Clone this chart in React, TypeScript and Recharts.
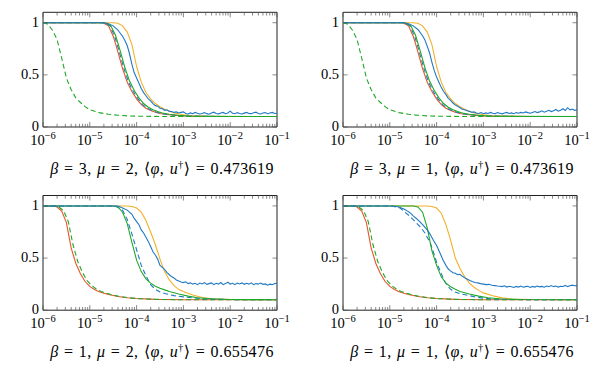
import React from "react";
import { LineChart, Line, XAxis, YAxis, ReferenceArea } from "recharts";

type P = [number, number][];

// ---- tick values ----
const majorExps = [-6, -5, -4, -3, -2, -1];
const minorMult = [2, 3, 4, 5, 6, 7, 8, 9];
const yTicks = [0, 0.5, 1];

// ---- captions ----
const captionsBeta = [3, 3, 1, 1];
const captionsMu = [2, 1, 2, 1];
const captionsVal = ["0.473619", "0.473619", "0.655476", "0.655476"];

// ---- beta = 3 curves (top row) ----
const b3Red: P = [[-6, 1], [-4.75, 1], [-4.7, 0.995], [-4.6, 0.97], [-4.5, 0.87], [-4.45, 0.8], [-4.4, 0.72], [-4.3, 0.56], [-4.2, 0.43], [-4.1, 0.34], [-4.0, 0.27], [-3.9, 0.215], [-3.8, 0.18], [-3.7, 0.158], [-3.6, 0.142], [-3.5, 0.13], [-3.4, 0.122], [-3.2, 0.112], [-3.0, 0.106], [-2.6, 0.102], [-2, 0.1], [-1, 0.1]];
const b3BlueDash: P = [[-6, 1], [-4.72, 1], [-4.67, 0.995], [-4.57, 0.97], [-4.47, 0.87], [-4.42, 0.8], [-4.37, 0.72], [-4.27, 0.56], [-4.17, 0.43], [-4.07, 0.34], [-3.97, 0.27], [-3.87, 0.215], [-3.77, 0.18], [-3.67, 0.158], [-3.57, 0.142], [-3.47, 0.13], [-3.37, 0.122], [-3.17, 0.112], [-2.97, 0.106], [-2.57, 0.102], [-2, 0.1], [-1, 0.1]];
const b3Green: P = [[-6, 1], [-4.7, 1], [-4.65, 0.995], [-4.55, 0.97], [-4.45, 0.88], [-4.35, 0.73], [-4.25, 0.57], [-4.15, 0.44], [-4.05, 0.35], [-3.95, 0.28], [-3.85, 0.225], [-3.75, 0.19], [-3.65, 0.165], [-3.55, 0.148], [-3.45, 0.135], [-3.3, 0.122], [-3.1, 0.112], [-2.9, 0.106], [-2.5, 0.102], [-1, 0.1]];
const b3Yellow: P = [[-6, 1], [-4.5, 1], [-4.4, 0.995], [-4.3, 0.97], [-4.2, 0.91], [-4.1, 0.79], [-4.0, 0.58], [-3.9, 0.43], [-3.8, 0.33], [-3.7, 0.27], [-3.6, 0.225], [-3.5, 0.195], [-3.4, 0.17], [-3.3, 0.15], [-3.2, 0.135], [-3.0, 0.117], [-2.8, 0.108], [-2.5, 0.103], [-2, 0.1], [-1, 0.1]];
const b3GreenDash: P = [[-6, 1], [-5.95, 0.995], [-5.9, 0.985], [-5.8, 0.93], [-5.7, 0.84], [-5.6, 0.66], [-5.5, 0.47], [-5.4, 0.36], [-5.3, 0.28], [-5.2, 0.235], [-5.1, 0.195], [-5.0, 0.165], [-4.8, 0.138], [-4.6, 0.122], [-4.4, 0.113], [-4.2, 0.107], [-4.0, 0.104], [-3.5, 0.101], [-3, 0.1], [-1, 0.1]];

const tlBlue: P = [[-6, 1], [-4.7, 1], [-4.6, 0.99], [-4.5, 0.97], [-4.4, 0.93], [-4.3, 0.87], [-4.25, 0.83], [-4.2, 0.78], [-4.15, 0.7], [-4.1, 0.6], [-4.05, 0.52], [-4.0, 0.47], [-3.95, 0.42], [-3.9, 0.37], [-3.85, 0.33], [-3.8, 0.3], [-3.75, 0.27], [-3.7, 0.25], [-3.65, 0.225], [-3.6, 0.205], [-3.55, 0.2], [-3.5, 0.18], [-3.45, 0.175], [-3.4, 0.16], [-3.35, 0.165], [-3.3, 0.15], [-3.25, 0.148], [-3.2, 0.14], [-3.15, 0.145], [-3.1, 0.135], [-3.05, 0.14],
  [-3.0, 0.145], [-2.95, 0.13], [-2.9, 0.125], [-2.85, 0.135], [-2.8, 0.128], [-2.75, 0.14], [-2.7, 0.132], [-2.65, 0.125], [-2.6, 0.13], [-2.55, 0.138], [-2.5, 0.128], [-2.45, 0.122], [-2.4, 0.135], [-2.35, 0.142], [-2.3, 0.13], [-2.25, 0.126], [-2.2, 0.134], [-2.15, 0.14], [-2.1, 0.128], [-2.05, 0.135], [-2.0, 0.152], [-1.95, 0.132], [-1.9, 0.127], [-1.85, 0.138], [-1.8, 0.13], [-1.75, 0.125], [-1.7, 0.133], [-1.65, 0.14], [-1.6, 0.13], [-1.55, 0.128], [-1.5, 0.136], [-1.45, 0.142], [-1.4, 0.13], [-1.35, 0.125], [-1.3, 0.134], [-1.25, 0.138], [-1.2, 0.128], [-1.15, 0.135], [-1.1, 0.14], [-1.05, 0.13], [-1.0, 0.132]];

const trBlue: P = [[-6, 1], [-4.7, 1], [-4.6, 0.99], [-4.5, 0.97], [-4.4, 0.935], [-4.3, 0.875], [-4.25, 0.835], [-4.2, 0.775], [-4.15, 0.71], [-4.1, 0.62], [-4.05, 0.54], [-4.0, 0.48], [-3.95, 0.43], [-3.9, 0.38], [-3.85, 0.34], [-3.8, 0.31], [-3.75, 0.275], [-3.7, 0.255], [-3.65, 0.23], [-3.6, 0.21], [-3.55, 0.2], [-3.5, 0.185], [-3.45, 0.17], [-3.4, 0.165], [-3.35, 0.155], [-3.3, 0.15], [-3.25, 0.142], [-3.2, 0.145], [-3.15, 0.135], [-3.1, 0.13], [-3.05, 0.138],
  [-3.0, 0.128], [-2.95, 0.135], [-2.9, 0.13], [-2.85, 0.14], [-2.8, 0.132], [-2.75, 0.128], [-2.7, 0.138], [-2.65, 0.132], [-2.6, 0.126], [-2.55, 0.135], [-2.5, 0.14], [-2.45, 0.13], [-2.4, 0.135], [-2.35, 0.128], [-2.3, 0.138], [-2.25, 0.132], [-2.2, 0.14], [-2.15, 0.135], [-2.1, 0.145], [-2.05, 0.138], [-2.0, 0.132], [-1.95, 0.14], [-1.9, 0.148], [-1.85, 0.138], [-1.8, 0.145], [-1.75, 0.155], [-1.7, 0.142], [-1.65, 0.15], [-1.6, 0.16], [-1.55, 0.148], [-1.5, 0.155], [-1.45, 0.168], [-1.4, 0.152], [-1.35, 0.16], [-1.3, 0.175], [-1.25, 0.158], [-1.2, 0.185], [-1.15, 0.165], [-1.1, 0.172], [-1.05, 0.16], [-1.0, 0.165]];

// ---- beta = 1 curves (bottom row) ----
const b1Red: P = [[-6, 1], [-5.75, 1], [-5.7, 0.99], [-5.6, 0.95], [-5.5, 0.84], [-5.4, 0.6], [-5.3, 0.45], [-5.2, 0.35], [-5.1, 0.275], [-5.0, 0.228], [-4.9, 0.198], [-4.8, 0.177], [-4.7, 0.162], [-4.6, 0.15], [-4.4, 0.132], [-4.2, 0.12], [-4.0, 0.112], [-3.6, 0.104], [-3, 0.1], [-1, 0.1]];
const b1GreenDash: P = [[-6, 1], [-5.72, 1], [-5.66, 0.99], [-5.56, 0.955], [-5.46, 0.85], [-5.36, 0.63], [-5.26, 0.47], [-5.16, 0.365], [-5.06, 0.285], [-4.96, 0.236], [-4.86, 0.203], [-4.76, 0.18], [-4.66, 0.164], [-4.56, 0.152], [-4.4, 0.135], [-4.2, 0.121], [-4.0, 0.112], [-3.6, 0.104], [-3, 0.1], [-1, 0.1]];

const blGreen: P = [[-6, 1], [-4.5, 1], [-4.4, 0.99], [-4.3, 0.94], [-4.2, 0.83], [-4.1, 0.65], [-4.0, 0.48], [-3.9, 0.37], [-3.8, 0.3], [-3.7, 0.26], [-3.6, 0.23], [-3.5, 0.21], [-3.4, 0.195], [-3.3, 0.18], [-3.1, 0.155], [-2.9, 0.135], [-2.7, 0.12], [-2.4, 0.11], [-2.0, 0.103], [-1, 0.1]];
const blBlueDash: P = [[-6, 1], [-4.45, 1], [-4.3, 0.96], [-4.2, 0.87], [-4.1, 0.73], [-4.0, 0.58], [-3.9, 0.43], [-3.8, 0.33], [-3.7, 0.245], [-3.6, 0.2], [-3.5, 0.175], [-3.4, 0.16], [-3.2, 0.14], [-3.0, 0.128], [-2.8, 0.118], [-2.5, 0.108], [-2.0, 0.102], [-1, 0.1]];
const blYellow: P = [[-6, 1], [-4.2, 1], [-4.1, 0.995], [-4.0, 0.98], [-3.9, 0.94], [-3.8, 0.86], [-3.7, 0.75], [-3.6, 0.63], [-3.5, 0.49], [-3.4, 0.37], [-3.3, 0.29], [-3.2, 0.235], [-3.1, 0.2], [-3.0, 0.18], [-2.8, 0.145], [-2.6, 0.122], [-2.4, 0.11], [-2.0, 0.103], [-1, 0.1]];
const blBlue: P = [[-6, 1], [-4.4, 1], [-4.3, 0.98], [-4.2, 0.96], [-4.1, 0.92], [-4.05, 0.88], [-4.0, 0.85], [-3.95, 0.82], [-3.9, 0.77], [-3.85, 0.74], [-3.8, 0.7], [-3.75, 0.66], [-3.7, 0.61], [-3.65, 0.56], [-3.6, 0.53], [-3.55, 0.49], [-3.5, 0.43], [-3.45, 0.41], [-3.4, 0.39], [-3.35, 0.36], [-3.3, 0.34], [-3.25, 0.32], [-3.2, 0.31], [-3.15, 0.29], [-3.1, 0.28], [-3.05, 0.27], [-3.0, 0.265],
  [-2.95, 0.272], [-2.9, 0.255], [-2.85, 0.262], [-2.8, 0.25], [-2.75, 0.258], [-2.7, 0.245], [-2.65, 0.26], [-2.6, 0.252], [-2.55, 0.265], [-2.5, 0.248], [-2.45, 0.255], [-2.4, 0.262], [-2.35, 0.245], [-2.3, 0.258], [-2.25, 0.25], [-2.2, 0.265], [-2.15, 0.245], [-2.1, 0.255], [-2.05, 0.268], [-2.0, 0.25], [-1.95, 0.258], [-1.9, 0.245], [-1.85, 0.26], [-1.8, 0.252], [-1.75, 0.262], [-1.7, 0.248], [-1.65, 0.258], [-1.6, 0.25], [-1.55, 0.262], [-1.5, 0.245], [-1.45, 0.255], [-1.4, 0.25], [-1.35, 0.26], [-1.3, 0.248], [-1.25, 0.252], [-1.2, 0.24], [-1.15, 0.25], [-1.1, 0.245], [-1.05, 0.255], [-1.0, 0.258]];

const brGreen: P = [[-6, 1], [-4.5, 1], [-4.4, 0.99], [-4.3, 0.94], [-4.2, 0.79], [-4.1, 0.57], [-4.0, 0.43], [-3.9, 0.32], [-3.8, 0.26], [-3.7, 0.225], [-3.6, 0.2], [-3.5, 0.18], [-3.3, 0.155], [-3.1, 0.135], [-2.9, 0.12], [-2.6, 0.108], [-2.2, 0.102], [-1, 0.1]];
const brBlueDash: P = [[-6, 1], [-4.95, 1], [-4.78, 0.98], [-4.57, 0.9], [-4.35, 0.8], [-4.25, 0.74], [-4.14, 0.65], [-4.07, 0.56], [-4.0, 0.46], [-3.9, 0.35], [-3.82, 0.27], [-3.72, 0.21], [-3.64, 0.18], [-3.5, 0.158], [-3.36, 0.145], [-3.2, 0.13], [-3.0, 0.115], [-2.7, 0.106], [-2.3, 0.102], [-1, 0.1]];
const brYellow: P = [[-6, 1], [-4.2, 1], [-4.1, 0.995], [-4.0, 0.98], [-3.9, 0.93], [-3.8, 0.82], [-3.7, 0.67], [-3.6, 0.5], [-3.5, 0.4], [-3.4, 0.32], [-3.3, 0.26], [-3.2, 0.22], [-3.1, 0.19], [-3.0, 0.166], [-2.8, 0.138], [-2.6, 0.118], [-2.4, 0.108], [-2.0, 0.102], [-1, 0.1]];
const brBlue: P = [[-6, 1], [-4.95, 1], [-4.85, 0.995], [-4.78, 0.985], [-4.7, 0.97], [-4.62, 0.95], [-4.57, 0.935], [-4.5, 0.905], [-4.42, 0.875], [-4.35, 0.845], [-4.28, 0.81], [-4.2, 0.77], [-4.14, 0.73], [-4.07, 0.67], [-4.0, 0.62], [-3.93, 0.55], [-3.86, 0.48], [-3.8, 0.43], [-3.75, 0.395], [-3.71, 0.38], [-3.65, 0.36], [-3.6, 0.355], [-3.55, 0.34], [-3.5, 0.345], [-3.45, 0.325], [-3.4, 0.31], [-3.35, 0.3], [-3.29, 0.285], [-3.24, 0.275], [-3.18, 0.265], [-3.12, 0.262], [-3.06, 0.255], [-3.0, 0.25], [-2.94, 0.245], [-2.88, 0.248], [-2.82, 0.24], [-2.76, 0.236], [-2.7, 0.232],
  [-2.65, 0.23], [-2.6, 0.226], [-2.55, 0.234], [-2.5, 0.222], [-2.45, 0.23], [-2.4, 0.225], [-2.35, 0.218], [-2.3, 0.228], [-2.25, 0.222], [-2.2, 0.232], [-2.15, 0.22], [-2.1, 0.226], [-2.05, 0.23], [-2.0, 0.218], [-1.95, 0.228], [-1.9, 0.222], [-1.85, 0.232], [-1.8, 0.224], [-1.75, 0.228], [-1.7, 0.22], [-1.65, 0.232], [-1.6, 0.225], [-1.55, 0.236], [-1.5, 0.226], [-1.45, 0.232], [-1.4, 0.222], [-1.35, 0.23], [-1.3, 0.228], [-1.25, 0.238], [-1.2, 0.226], [-1.15, 0.234], [-1.1, 0.24], [-1.05, 0.235], [-1.0, 0.236]];

// ---- colours ----
const BLUE = "#1f78c4";
const RED = "#e8552a";
const YELLOW = "#f2b12a";
const GREEN = "#20a828";

type Series = { data: P; color: string; dashed?: boolean };

const panels: Series[][] = [
  [
    { data: b3Yellow, color: YELLOW },
    { data: b3Red, color: RED },
    { data: b3BlueDash, color: BLUE, dashed: true },
    { data: b3Green, color: GREEN },
    { data: b3GreenDash, color: GREEN, dashed: true },
    { data: tlBlue, color: BLUE },
  ],
  [
    { data: b3Yellow, color: YELLOW },
    { data: b3Red, color: RED },
    { data: b3BlueDash, color: BLUE, dashed: true },
    { data: b3Green, color: GREEN },
    { data: b3GreenDash, color: GREEN, dashed: true },
    { data: trBlue, color: BLUE },
  ],
  [
    { data: blYellow, color: YELLOW },
    { data: b1Red, color: RED },
    { data: b1GreenDash, color: GREEN, dashed: true },
    { data: blBlueDash, color: BLUE, dashed: true },
    { data: blGreen, color: GREEN },
    { data: blBlue, color: BLUE },
  ],
  [
    { data: brYellow, color: YELLOW },
    { data: b1Red, color: RED },
    { data: b1GreenDash, color: GREEN, dashed: true },
    { data: brBlueDash, color: BLUE, dashed: true },
    { data: brGreen, color: GREEN },
    { data: brBlue, color: BLUE },
  ],
];

const FONT = "'Liberation Serif', 'DejaVu Serif', serif";
const CHART_W = 300;
const CHART_H = 185;
const Y_AXIS_W = 43;
const X_AXIS_H = 30;
const PLOT_W = 234;
const PLOT_H = 114.7;

const toPts = (arr: P) => arr.map(([e, y]) => ({ x: Math.pow(10, e), y }));

const xTicks: number[] = [];
majorExps.forEach((e) => {
  xTicks.push(Math.pow(10, e));
  if (e < -1) minorMult.forEach((m) => xTicks.push(m * Math.pow(10, e)));
});

function Panel({ idx, left, top, plotTop }: { idx: number; left: number; top: number; plotTop: number }) {
  const plotBottom = plotTop + PLOT_H;
  const plotLeft = Y_AXIS_W;
  const plotRight = Y_AXIS_W + PLOT_W;
  const mb = CHART_H - X_AXIS_H - PLOT_H - plotTop;

  const XTick = (props: any) => {
    const { x, payload } = props;
    const v = payload.value;
    const lg = Math.log10(v);
    const major = Math.abs(lg - Math.round(lg)) < 1e-6;
    const len = major ? 5 : 3.2;
    return (
      <g>
        <line x1={x} x2={x} y1={plotBottom} y2={plotBottom - len} stroke="#555" strokeWidth={0.7} />
        <line x1={x} x2={x} y1={plotTop} y2={plotTop + len} stroke="#555" strokeWidth={0.7} />
        {major && (
          <text x={x} y={plotBottom + 17.5} textAnchor="middle" fontSize={14.5} fontFamily={FONT} fill="#000">
            10
            <tspan dy={-6} fontSize={10.5}>
              {"\u2212" + Math.abs(Math.round(lg))}
            </tspan>
          </text>
        )}
      </g>
    );
  };

  const YTick = (props: any) => {
    const { y, payload } = props;
    return (
      <g>
        <line x1={plotLeft} x2={plotLeft + 4.5} y1={y} y2={y} stroke="#555" strokeWidth={0.7} />
        <line x1={plotRight - 4.5} x2={plotRight} y1={y} y2={y} stroke="#555" strokeWidth={0.7} />
        <text x={plotLeft - 4} y={y + 4} textAnchor="end" fontSize={14.5} fontFamily={FONT} fill="#000">
          {String(payload.value)}
        </text>
      </g>
    );
  };

  return (
    <div style={{ position: "absolute", left, top, width: CHART_W, height: CHART_H }}>
      <LineChart
        width={CHART_W}
        height={CHART_H}
        margin={{ top: plotTop, right: CHART_W - plotRight, bottom: mb, left: 0 }}
      >
        <XAxis
          dataKey="x"
          type="number"
          scale="log"
          domain={[1e-6, 1e-1]}
          allowDataOverflow
          ticks={xTicks}
          interval={0}
          tick={<XTick />}
          tickLine={false}
          axisLine={false}
          height={X_AXIS_H}
        />
        <YAxis
          type="number"
          domain={[0, 1.1]}
          ticks={yTicks}
          interval={0}
          tick={<YTick />}
          tickLine={false}
          axisLine={false}
          width={Y_AXIS_W}
          allowDataOverflow
        />
        <ReferenceArea
          x1={1e-6}
          x2={1e-1}
          y1={0}
          y2={1.1}
          fill="none"
          fillOpacity={0}
          stroke="#222"
          strokeWidth={1}
          ifOverflow="visible"
        />
        {panels[idx].map((s, i) => (
          <Line
            key={i}
            data={toPts(s.data)}
            dataKey="y"
            type="linear"
            stroke={s.color}
            strokeWidth={1.1}
            strokeDasharray={s.dashed ? "5 3" : undefined}
            dot={false}
            activeDot={false}
            isAnimationActive={false}
          />
        ))}
      </LineChart>
    </div>
  );
}

function Caption({ idx, left, top }: { idx: number; left: number; top: number }) {
  return (
    <div
      style={{
        position: "absolute",
        left,
        top,
        width: 300,
        textAlign: "center",
        fontFamily: FONT,
        fontSize: 16,
        lineHeight: "16px",
        letterSpacing: "0.4px",
        wordSpacing: "1px",
        color: "#000",
        whiteSpace: "nowrap",
      }}
    >
      <i>β</i> = {captionsBeta[idx]}, <i>μ</i> = {captionsMu[idx]}, ⟨<i>φ</i>, <i>u</i>
      <sup style={{ fontSize: 10.5, lineHeight: 0 }}>†</sup>⟩ = {captionsVal[idx]}
    </div>
  );
}

export default function App() {
  return (
    <div style={{ position: "absolute", left: 0, top: 0, width: 603, height: 374, background: "#fff", overflow: "hidden" }}>
      <Panel idx={0} left={0} top={0} plotTop={12.3} />
      <Panel idx={1} left={300} top={0} plotTop={12.3} />
      <Panel idx={2} left={0} top={185} plotTop={10.5} />
      <Panel idx={3} left={300} top={185} plotTop={10.5} />
      <Caption idx={0} left={12} top={160.6} />
      <Caption idx={1} left={312} top={160.6} />
      <Caption idx={2} left={12} top={343.6} />
      <Caption idx={3} left={312} top={343.6} />
    </div>
  );
}
